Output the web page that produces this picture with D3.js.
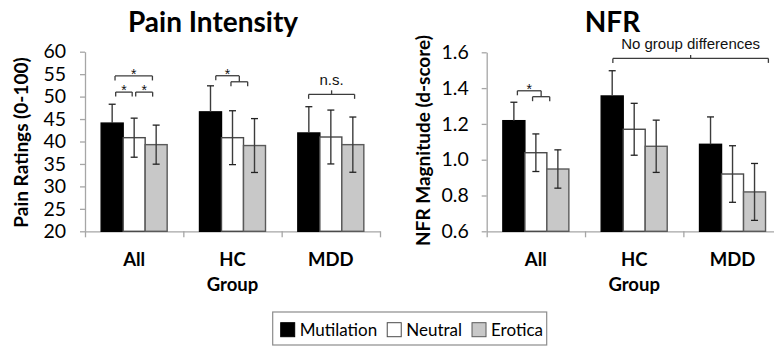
<!DOCTYPE html>
<html>
<head>
<meta charset="utf-8">
<script src="https://cdn.jsdelivr.net/npm/d3@7/dist/d3.min.js"></script>
<style>
  html, body { margin: 0; padding: 0; background: #fff; }
</style>
</head>
<body>
<div id="chart"></div>
<script>
// data
const groups = ["All", "HC", "MDD"];
const series = ["Mutilation", "Neutral", "Erotica"];

const painMean = [[44.1, 40.85, 39.3], [46.6, 40.85, 39.1], [41.9, 41.0, 39.3]];
const painErr  = [[4.2, 4.35, 4.35], [5.8, 6.0, 6.0], [5.85, 6.0, 6.15]];
const painTicks = [20, 25, 30, 35, 40, 45, 50, 55, 60];

const nfrMean = [[1.218, 1.039, 0.948], [1.356, 1.17, 1.075], [1.086, 0.92, 0.82]];
const nfrErr  = [[0.103, 0.105, 0.107], [0.141, 0.145, 0.146], [0.153, 0.158, 0.159]];
const nfrTicks = [0.6, 0.8, 1.0, 1.2, 1.4, 1.6];

// significance brackets (pos in bar units: 0 = first bar centre)
const painBrackets = [
    {from: ["All", 0.13], to: ["All", 1.83], y: 54.6, ends: [true, true], label: "*"},
    {from: ["All", 0.16], to: ["All", 0.91], y: 51.0, ends: [true, true], label: "*"},
    {from: ["All", 1.07], to: ["All", 1.84], y: 51.0, ends: [true, true], label: "*"},
    {from: ["HC", 0.24], to: ["HC", 1.30], y: 54.65, ends: [true, false], label: "*"},
    {from: ["HC", 0.93], to: ["HC", 1.69], y: 53.3, ends: [true, true], midUp: 54.65},
    {from: ["MDD", -0.01], to: ["MDD", 2.08], y: 50.5, ends: [true, true], midUp: 51.4, label: "n.s."}
];
const nfrBrackets = [
    {from: ["All", 0.16], to: ["All", 1.24], y: 1.385, ends: [true, false], label: "*"},
    {from: ["All", 0.85], to: ["All", 1.63], y: 1.352, ends: [true, true], midUp: 1.385},
    {from: ["HC", 0.03], to: ["MDD", 2.63], y: 1.566, ends: [true, true], midUp: 1.585, label: "No group differences"}
];

const fills   = ["#000000", "#ffffff", "#c8c8c8"];
const strokes = ["#000000", "#4a4a4a", "#5a5a5a"];
const axisColor = "#a6a6a6";
const lineColor = "#3c3c3c";
const calibri = "Lato, 'Open Sans', sans-serif";
const arial = "'Liberation Sans', Arial, sans-serif";

const svg = d3.select("#chart")
              .append("svg")
              .attr("width", 774)
              .attr("height", 346);

svg.append("rect").attr("width", 774).attr("height", 346).attr("fill", "#fff");

function drawPanel(o) {
    const x0 = d3.scaleBand().domain(groups).range(o.xRange);
    const x1 = d3.scaleBand().domain(series).range([0, x0.bandwidth()])
                 .paddingInner(0).paddingOuter(0.735);
    const y = d3.scaleLinear().domain(o.yDomain).range(o.yRange);
    const yBase = y(o.yDomain[0]);

    // Y axis
    svg.append("g")
       .attr("transform", `translate(${o.xRange[0]},0)`)
       .call(d3.axisLeft(y).tickValues(o.ticks).tickSize(5).tickSizeOuter(0)
               .tickPadding(o.tickPad).tickFormat(o.fmt))
       .call(g => {
            g.select(".domain").attr("stroke", axisColor).attr("stroke-width", 1.3);
            g.selectAll("line").attr("stroke", axisColor).attr("stroke-width", 1.3);
            g.selectAll("text").attr("font-family", calibri).attr("font-size", 19.5).attr("fill", "#000");
       });

    // X axis: boundary ticks + group labels
    const xEdge = d3.scaleLinear().domain([0, groups.length]).range(o.xRange);
    svg.append("g")
       .attr("transform", `translate(0,${yBase})`)
       .call(d3.axisBottom(xEdge).tickValues(d3.range(groups.length + 1)).tickSize(6)
               .tickSizeOuter(0).tickFormat(""))
       .call(g => {
            g.select(".domain").attr("stroke", axisColor).attr("stroke-width", 1.3);
            g.selectAll("line").attr("stroke", axisColor).attr("stroke-width", 1.3);
       });

    svg.append("g")
       .attr("transform", `translate(0,${yBase})`)
       .call(d3.axisBottom(x0).tickSize(0).tickPadding(22))
       .call(g => {
            g.select(".domain").remove();
            g.selectAll("text").attr("font-family", calibri).attr("font-size", 18.5)
             .attr("font-weight", "bold").attr("fill", "#000");
       });

    const rows = [];
    groups.forEach((grp, gi) => series.forEach((s, si) => {
        rows.push({grp, s, si, v: o.means[gi][si], e: o.errs[gi][si]});
    }));

    const errBar = (sel) => {
        sel.each(function(d) {
            const g = d3.select(this);
            const cx = x0(d.grp) + x1(d.s) + x1.bandwidth() / 2;
            // lower half of the black bars is hidden by the bar itself
            const caps = d.si === 0 ? [d.v + d.e] : [d.v + d.e, d.v - d.e];
            g.append("line").attr("x1", cx).attr("x2", cx)
             .attr("y1", y(d.si === 0 ? d.v : d.v - d.e)).attr("y2", y(d.v + d.e))
             .attr("stroke", lineColor).attr("stroke-width", 1.4);
            caps.forEach(t => {
                g.append("line").attr("x1", cx - 3.5).attr("x2", cx + 3.5)
                 .attr("y1", y(t)).attr("y2", y(t))
                 .attr("stroke", "#222").attr("stroke-width", 1.3);
            });
        });
    };

    // bars
    svg.append("g")
       .selectAll("rect")
       .data(rows)
       .join("rect")
       .attr("x", d => x0(d.grp) + x1(d.s))
       .attr("y", d => y(d.v))
       .attr("width", x1.bandwidth())
       .attr("height", d => yBase - y(d.v))
       .attr("fill", d => fills[d.si])
       .attr("stroke", d => strokes[d.si])
       .attr("stroke-width", 1.4);

    // error bars
    svg.append("g").selectAll("g").data(rows).join("g").call(errBar);

    // brackets
    const px = (p) => x0(p[0]) + x1(series[0]) + x1.bandwidth() / 2 + p[1] * x1.step();
    const tick = 4.5;
    o.brackets.forEach(b => {
        const xa = px(b.from), xb = px(b.to), yy = y(b.y);
        const g = svg.append("g").attr("fill", "none").attr("stroke", lineColor).attr("stroke-width", 1.3);
        g.append("line").attr("x1", xa).attr("x2", xb).attr("y1", yy).attr("y2", yy);
        if (b.ends[0]) g.append("line").attr("x1", xa).attr("x2", xa).attr("y1", yy).attr("y2", yy + tick);
        if (b.ends[1]) g.append("line").attr("x1", xb).attr("x2", xb).attr("y1", yy).attr("y2", yy + tick);
        if (b.midUp !== undefined) {
            const xm = (xa + xb) / 2;
            g.append("line").attr("x1", xm).attr("x2", xm).attr("y1", yy).attr("y2", y(b.midUp));
        }
        if (b.label) {
            const star = b.label === "*";
            svg.append("text")
               .attr("x", (xa + xb) / 2)
               .attr("y", star ? yy + 3 : yy - 9)
               .attr("text-anchor", "middle")
               .attr("font-family", arial)
               .attr("font-size", star ? 14 : 15)
               .attr("fill", "#111")
               .text(b.label);
        }
    });

    // titles
    svg.append("text")
       .attr("x", o.titleX).attr("y", 32)
       .attr("text-anchor", "middle")
       .attr("font-family", calibri).attr("font-weight", "bold").attr("font-size", 28)
       .text(o.title);

    svg.append("text")
       .attr("x", (o.xRange[0] + o.xRange[1]) / 2).attr("y", 291)
       .attr("text-anchor", "middle")
       .attr("font-family", calibri).attr("font-weight", "bold").attr("font-size", 18.5)
       .text("Group");

    svg.append("text")
       .attr("transform", `translate(${o.yTitlePos[0]},${o.yTitlePos[1]}) rotate(-90)`)
       .attr("text-anchor", "middle")
       .attr("font-family", calibri).attr("font-weight", "bold").attr("font-size", 19)
       .text(o.yTitle);
}

drawPanel({
    means: painMean, errs: painErr, ticks: painTicks, yDomain: [20, 60],
    xRange: [85, 380], yRange: [231.3, 51.7], tickPad: 14, fmt: d3.format("d"),
    brackets: painBrackets, title: "Pain Intensity", titleX: 213,
    yTitle: "Pain Ratings  (0-100)", yTitlePos: [28, 142.5]
});

drawPanel({
    means: nfrMean, errs: nfrErr, ticks: nfrTicks, yDomain: [0.6, 1.6],
    xRange: [486.7, 781.7], yRange: [231.3, 52.3], tickPad: 13, fmt: d3.format(".1f"),
    brackets: nfrBrackets, title: "NFR", titleX: 612.5,
    yTitle: "NFR Magnitude  (d-score)", yTitlePos: [430, 140.5]
});

// legend
const legend = svg.append("g");
legend.append("rect")
      .attr("x", 272.7).attr("y", 312).attr("width", 274).attr("height", 33)
      .attr("fill", "#fff").attr("stroke", "#8c8c8c").attr("stroke-width", 1.2);

let lx = 280.7;
series.forEach((s, i) => {
    legend.append("rect")
          .attr("x", lx).attr("y", 322.7).attr("width", 14).attr("height", 14)
          .attr("fill", fills[i]).attr("stroke", strokes[i]).attr("stroke-width", 1);
    const t = legend.append("text")
          .attr("x", lx + 19).attr("y", 336)
          .attr("font-family", calibri).attr("font-size", 17)
          .text(s);
    lx += 19 + t.node().getComputedTextLength() + 10;
});
</script>
</body>
</html>
